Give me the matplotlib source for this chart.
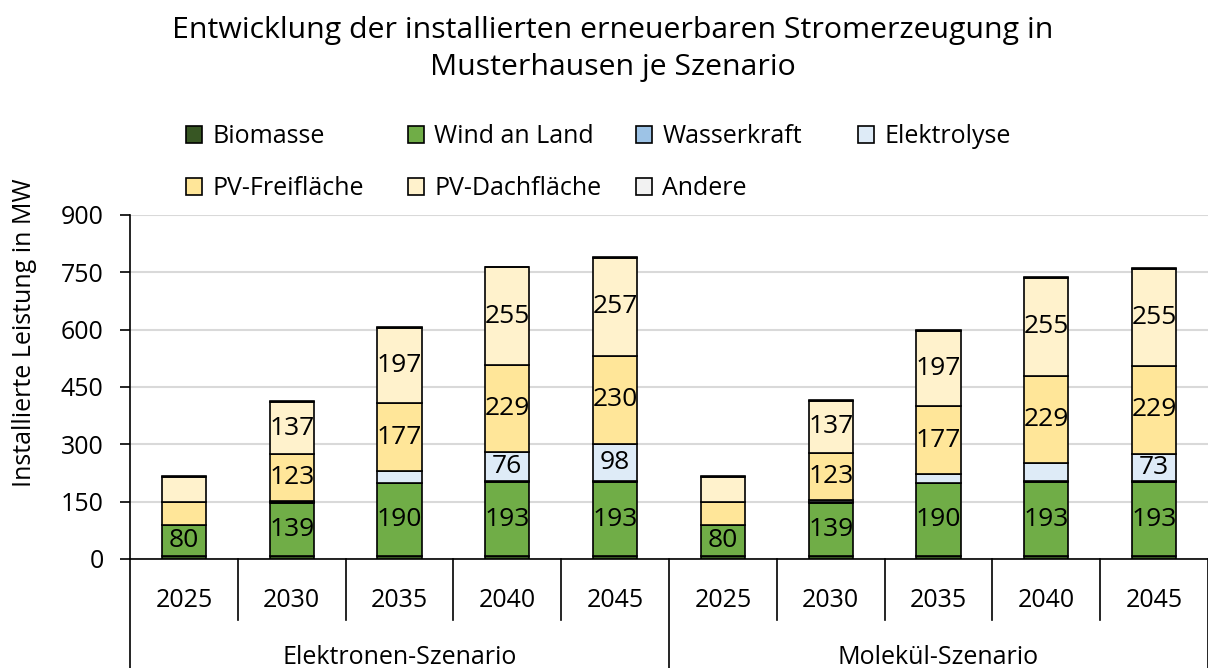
"""Stacked bars: installed renewable capacity per scenario."""

import matplotlib.pyplot as plt
from matplotlib.patches import Patch
from matplotlib.legend import Legend
from matplotlib.transforms import blended_transform_factory

plt.rcParams["font.family"] = ["Open Sans", "DejaVu Sans"]

scenarios = ["Elektronen-Szenario", "Molekül-Szenario"]
years = ["2025", "2030", "2035", "2040", "2045"]
series = ["Biomasse", "Wind an Land", "Wasserkraft", "Elektrolyse",
          "PV-Freifläche", "PV-Dachfläche", "Andere"]
colors = ["#375623", "#70ad47", "#9dc3e6", "#deebf7",
          "#ffe699", "#fff2cc", "#f2f2f2"]

# Elektronen 2025..2045, then Molekül 2025..2045
biomasse = [8, 8, 8, 8, 8, 8, 8, 8, 8, 8]
wind = [80, 139, 190, 193, 193, 80, 139, 190, 193, 193]
wasser = [2, 2, 2, 2, 2, 2, 2, 2, 2, 2]
elektrolyse = [0, 2, 30, 76, 98, 0, 5, 22, 48, 73]
pv_frei = [60, 123, 177, 229, 230, 60, 123, 177, 229, 229]
pv_dach = [64, 137, 197, 255, 257, 64, 137, 197, 255, 255]
andere = [2, 2, 2, 2, 2, 2, 2, 2, 2, 2]
values = [biomasse, wind, wasser, elektrolyse, pv_frei, pv_dach, andere]

LABEL_MIN = 70
FS = 18

fig = plt.figure(figsize=(12.08, 6.68), dpi=100)
ax = fig.add_axes([130 / 1208, 109 / 668, 1078 / 1208, 344 / 668])

n = len(biomasse)
x = list(range(n))
bottom = [0] * n
for name, col, vals in zip(series, colors, values):
    bars = ax.bar(x, vals, 0.41, bottom=bottom, color=col,
                  edgecolor="black", linewidth=1.2, label=name, zorder=3)
    for rect, v, b in zip(bars, vals, bottom):
        if v >= LABEL_MIN:
            ax.text(rect.get_x() + rect.get_width() / 2, b + v / 2, str(v),
                    ha="center", va="center", fontsize=19, zorder=4)
    bottom = [b + v for b, v in zip(bottom, vals)]

ax.set_xlim(-0.5, n - 0.5)
ax.set_ylim(0, 900)
ax.set_yticks(range(0, 901, 150))
ax.tick_params(axis="y", labelsize=FS, length=7, width=1.2, direction="out",
               pad=12)
ax.tick_params(axis="x", bottom=False, labelbottom=False)
ax.yaxis.grid(True, color="#d9d9d9", linewidth=1.5, zorder=0)
ax.set_axisbelow(True)
for side in ["top", "right"]:
    ax.spines[side].set_visible(False)
ax.spines["left"].set_linewidth(1.2)
ax.spines["bottom"].set_linewidth(1.2)

# two-level category axis drawn by hand
tr = blended_transform_factory(ax.transData, ax.transAxes)
per_group = len(years)
for i in range(n + 1):
    xb = i - 0.5
    depth = -0.317 if i % per_group == 0 else -0.178
    ax.plot([xb, xb], [0, depth], color="black", linewidth=1.2,
            transform=tr, clip_on=False)
for i in range(n):
    ax.text(i, -0.12, years[i % per_group], transform=tr, ha="center",
            va="center", fontsize=FS)
for g, name in enumerate(scenarios):
    center = g * per_group + (per_group - 1) / 2
    ax.text(center, -0.285, name, transform=tr, ha="center", va="center",
            fontsize=FS)

fig.text(25 / 1208, 1 - 333 / 668, "Installierte Leistung in MW",
         rotation=90, ha="center", va="center", fontsize=FS)
fig.text(0.507, 1 - 49 / 668,
         "Entwicklung der installierten erneuerbaren Stromerzeugung in\n"
         "Musterhausen je Szenario",
         ha="center", va="center", fontsize=21.8, linespacing=1.35)

# legend: four columns placed like the original, two rows
handles = [Patch(facecolor=c, edgecolor="black", linewidth=1.2)
           for c in colors]
columns = [[0, 4], [1, 5], [2, 6], [3]]
col_left = [186, 408, 636, 858]
for idx, left in zip(columns, col_left):
    leg = Legend(fig, [handles[i] for i in idx], [series[i] for i in idx],
                 loc="upper left", bbox_to_anchor=(left / 1208, 1 - 124 / 668),
                 frameon=False, fontsize=FS, handlelength=0.65,
                 handleheight=0.65, handletextpad=0.4, labelspacing=1.08,
                 borderaxespad=0, borderpad=0)
    fig.add_artist(leg)

fig.savefig("out.png", dpi=100)
